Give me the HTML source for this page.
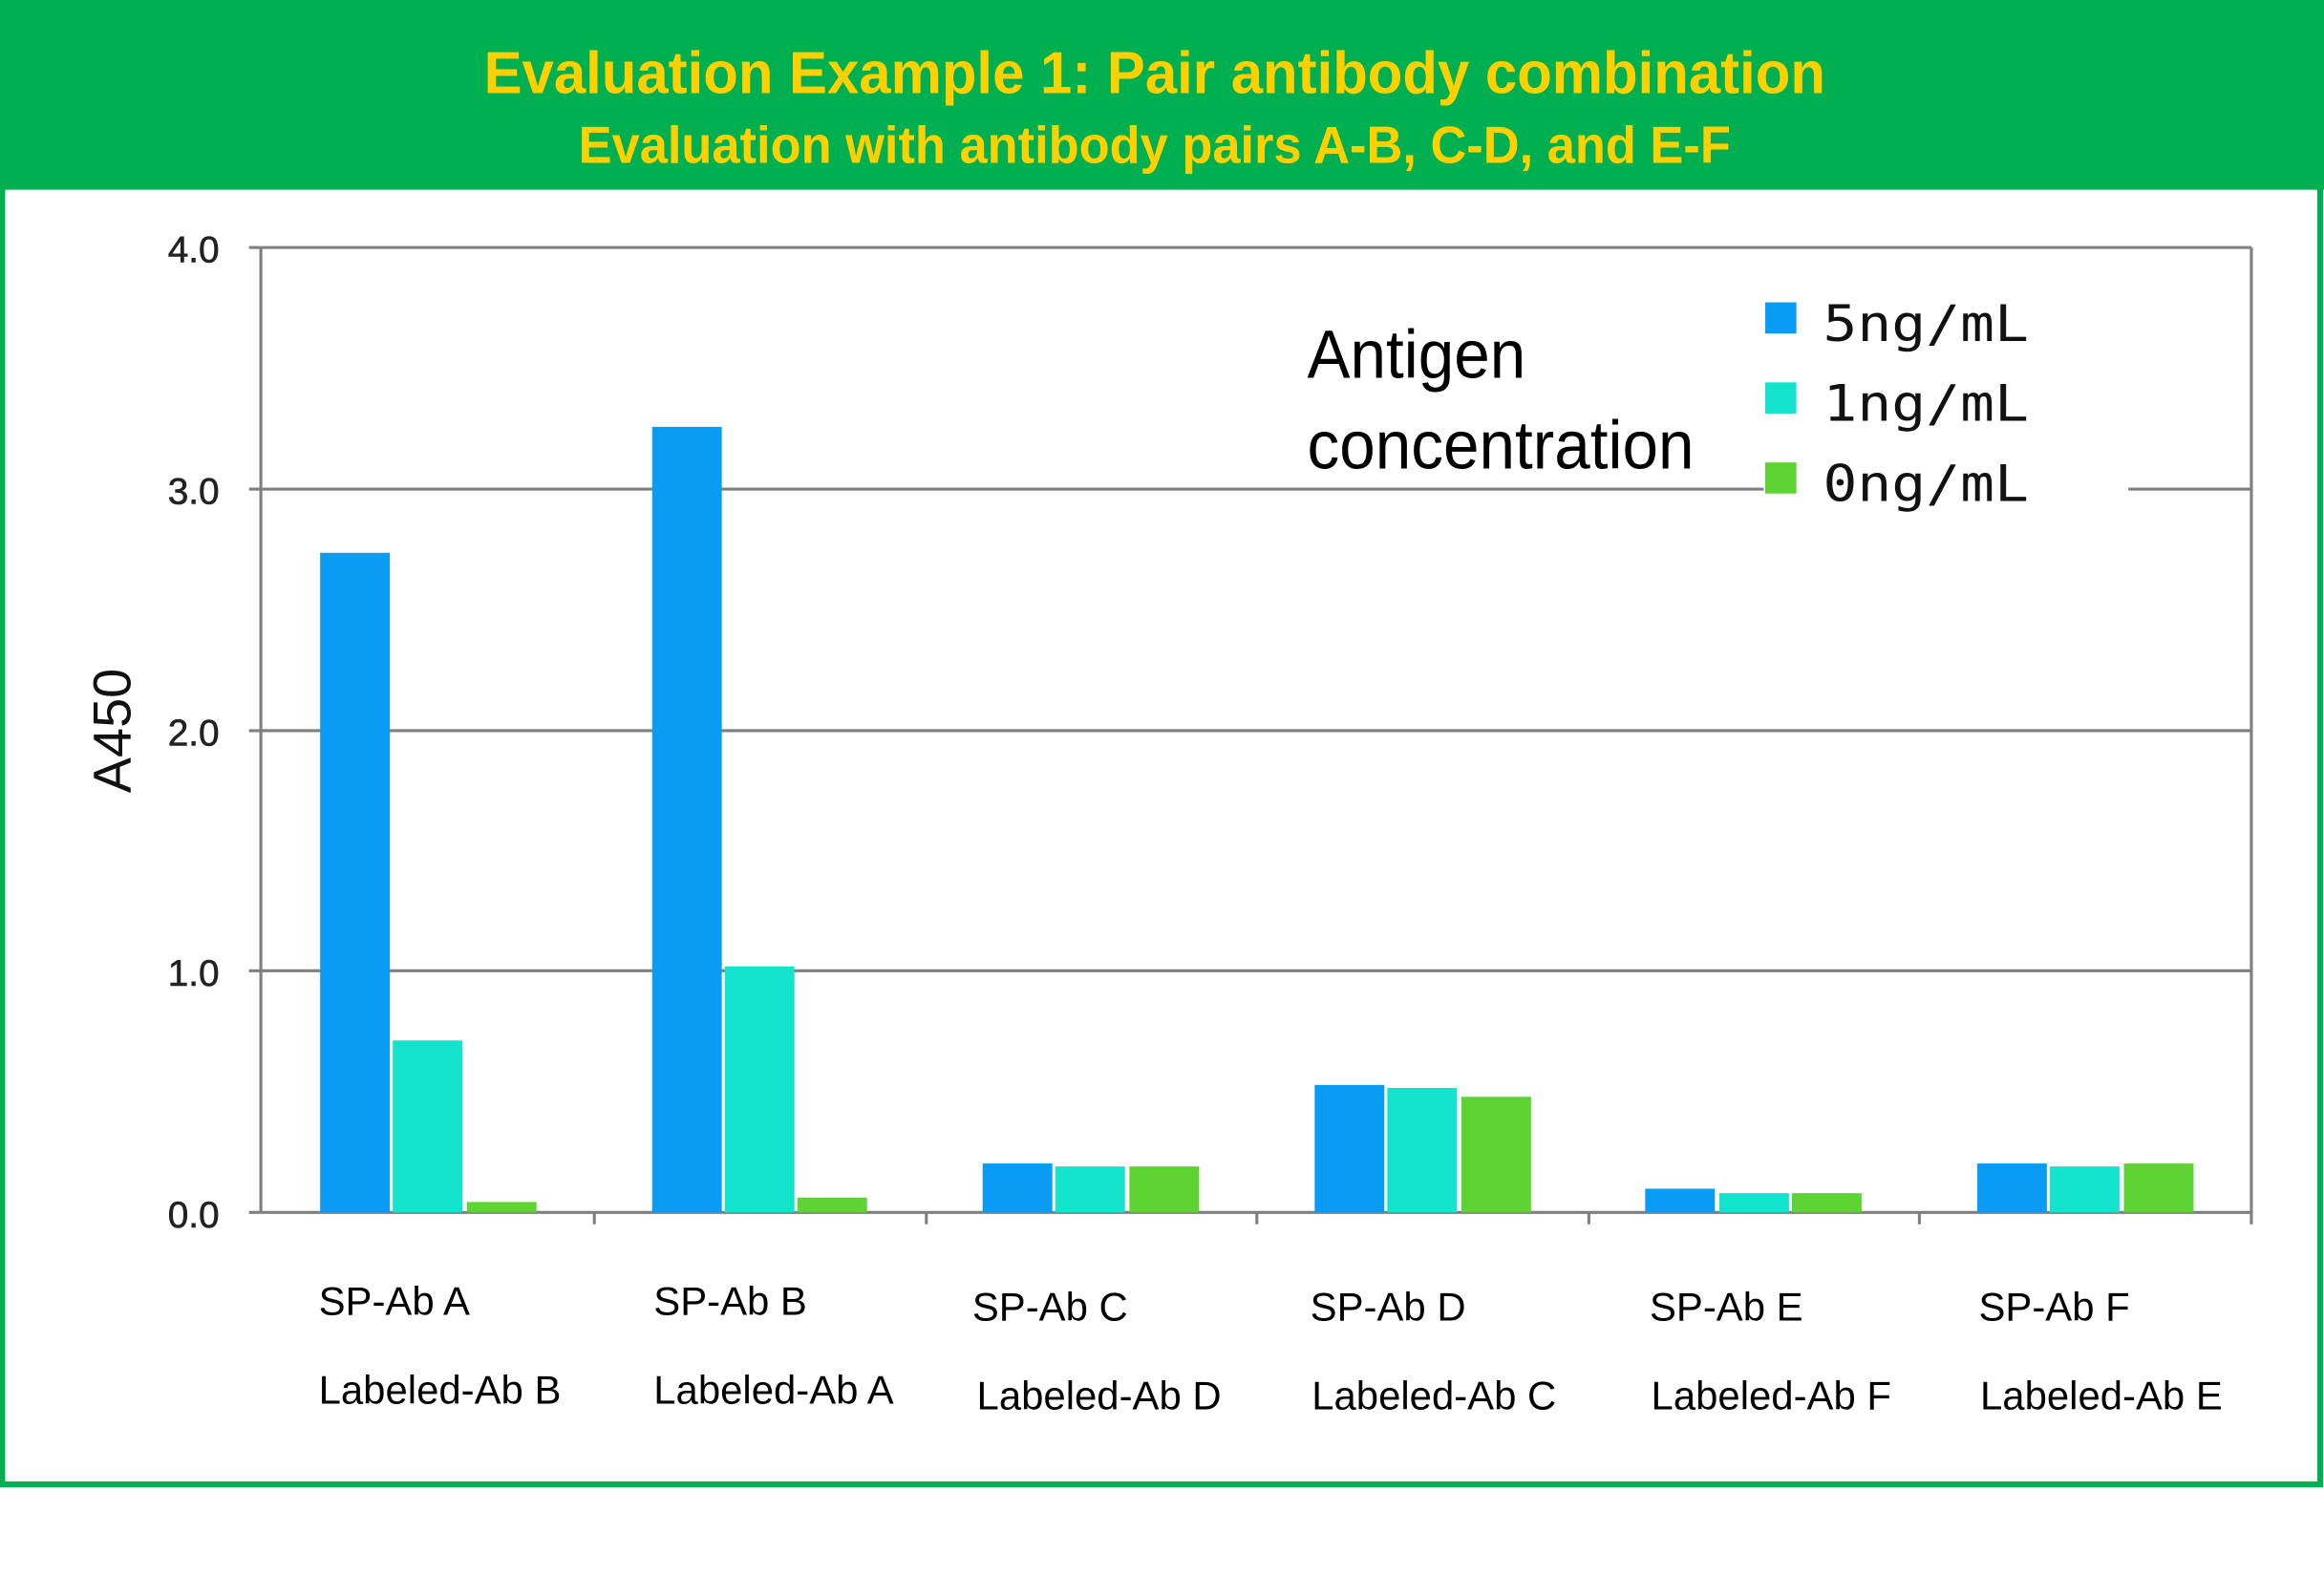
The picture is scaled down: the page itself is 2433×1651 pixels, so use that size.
<!DOCTYPE html>
<html><head><style>html,body{margin:0;padding:0;background:#fff}svg{display:block}</style></head>
<body>
<svg width="2433" height="1651" viewBox="0 0 1568 1064" preserveAspectRatio="none" xmlns="http://www.w3.org/2000/svg" font-family="Liberation Sans, sans-serif">
<rect x="0" y="0" width="1568" height="1064" fill="#fff"/>
<rect x="0" y="0" width="1568" height="128" fill="#00b050"/>
<rect x="1.5" y="1.5" width="1564" height="1000" fill="none" stroke="#00b050" stroke-width="4"/>
<text x="779" y="63" text-anchor="middle" font-size="40" font-weight="bold" fill="#ffd000" transform="translate(779 0) scale(0.965 1) translate(-779 0)">Evaluation Example 1: Pair antibody combination</text>
<text x="779" y="110" text-anchor="middle" font-size="35" font-weight="bold" fill="#ffd000" transform="translate(779 0) scale(0.965 1) translate(-779 0)">Evaluation with antibody pairs A-B, C-D, and E-F</text>
<g stroke="#7f7f7f" stroke-width="2">
<line x1="176" y1="167" x2="1519" y2="167"/>
<line x1="176" y1="330" x2="1190" y2="330"/><line x1="1436" y1="330" x2="1519" y2="330"/>
<line x1="176" y1="493" x2="1519" y2="493"/>
<line x1="176" y1="655" x2="1519" y2="655"/>
<line x1="176" y1="818" x2="1519" y2="818"/>
<line x1="176" y1="167" x2="176" y2="818"/>
<line x1="1519" y1="167" x2="1519" y2="826"/>
<line x1="168" y1="167" x2="176" y2="167"/><line x1="168" y1="330" x2="176" y2="330"/><line x1="168" y1="493" x2="176" y2="493"/><line x1="168" y1="655" x2="176" y2="655"/><line x1="168" y1="818" x2="176" y2="818"/>
<line x1="401" y1="818" x2="401" y2="826"/><line x1="625" y1="818" x2="625" y2="826"/><line x1="848" y1="818" x2="848" y2="826"/><line x1="1072" y1="818" x2="1072" y2="826"/><line x1="1295" y1="818" x2="1295" y2="826"/>
</g>
<g font-size="25" text-anchor="end" fill="#222" stroke="#222" stroke-width="0.4">
<text x="148" y="177">4.0</text><text x="148" y="340">3.0</text><text x="148" y="503">2.0</text><text x="148" y="665">1.0</text><text x="148" y="828">0.0</text>
</g>
<text transform="translate(88 493) rotate(-90)" text-anchor="middle" font-size="36" fill="#111">A450</text>
<g>
<rect x="216" y="373" width="47" height="445" fill="#0a9cf5"/><rect x="265" y="702" width="47" height="116" fill="#14e3cd"/><rect x="315" y="811" width="47" height="7" fill="#5ed334"/>
<rect x="440" y="288" width="47" height="530" fill="#0a9cf5"/><rect x="489" y="652" width="47" height="166" fill="#14e3cd"/><rect x="538" y="808" width="47" height="10" fill="#5ed334"/>
<rect x="663" y="785" width="47" height="33" fill="#0a9cf5"/><rect x="712" y="787" width="47" height="31" fill="#14e3cd"/><rect x="762" y="787" width="47" height="31" fill="#5ed334"/>
<rect x="887" y="732" width="47" height="86" fill="#0a9cf5"/><rect x="936" y="734" width="47" height="84" fill="#14e3cd"/><rect x="986" y="740" width="47" height="78" fill="#5ed334"/>
<rect x="1110" y="802" width="47" height="16" fill="#0a9cf5"/><rect x="1160" y="805" width="47" height="13" fill="#14e3cd"/><rect x="1209" y="805" width="47" height="13" fill="#5ed334"/>
<rect x="1334" y="785" width="47" height="33" fill="#0a9cf5"/><rect x="1383" y="787" width="47" height="31" fill="#14e3cd"/><rect x="1433" y="785" width="47" height="33" fill="#5ed334"/>
</g>
<g font-size="46" fill="#000">
<text x="882" y="255" transform="translate(882 0) scale(0.945 1) translate(-882 0)">Antigen</text>
<text x="882" y="316" transform="translate(882 0) scale(0.945 1) translate(-882 0)">concentration</text>
</g>
<rect x="1191" y="204" width="21" height="21" fill="#0a9cf5"/>
<rect x="1191" y="258" width="21" height="21" fill="#14e3cd"/>
<rect x="1191" y="312" width="21" height="21" fill="#5ed334"/>
<g font-family="DejaVu Sans Mono, Liberation Mono, monospace" font-size="34" fill="#111" transform="translate(1230 0) scale(1.13 1) translate(-1230 0)">
<text x="1230" y="230">5ng/mL</text><text x="1230" y="284">1ng/mL</text><text x="1230" y="338">0ng/mL</text>
</g>
<g font-size="27" fill="#000">
<text x="215" y="887">SP-Ab A</text><text x="215" y="947">Labeled-Ab B</text>
<text x="441" y="887">SP-Ab B</text><text x="441" y="947">Labeled-Ab A</text>
<text x="656" y="891">SP-Ab C</text><text x="659" y="951">Labeled-Ab D</text>
<text x="884" y="891">SP-Ab D</text><text x="885" y="951">Labeled-Ab C</text>
<text x="1113" y="891">SP-Ab E</text><text x="1114" y="951">Labeled-Ab F</text>
<text x="1335" y="891">SP-Ab F</text><text x="1336" y="951">Labeled-Ab E</text>
</g>
</svg>
</body></html>
